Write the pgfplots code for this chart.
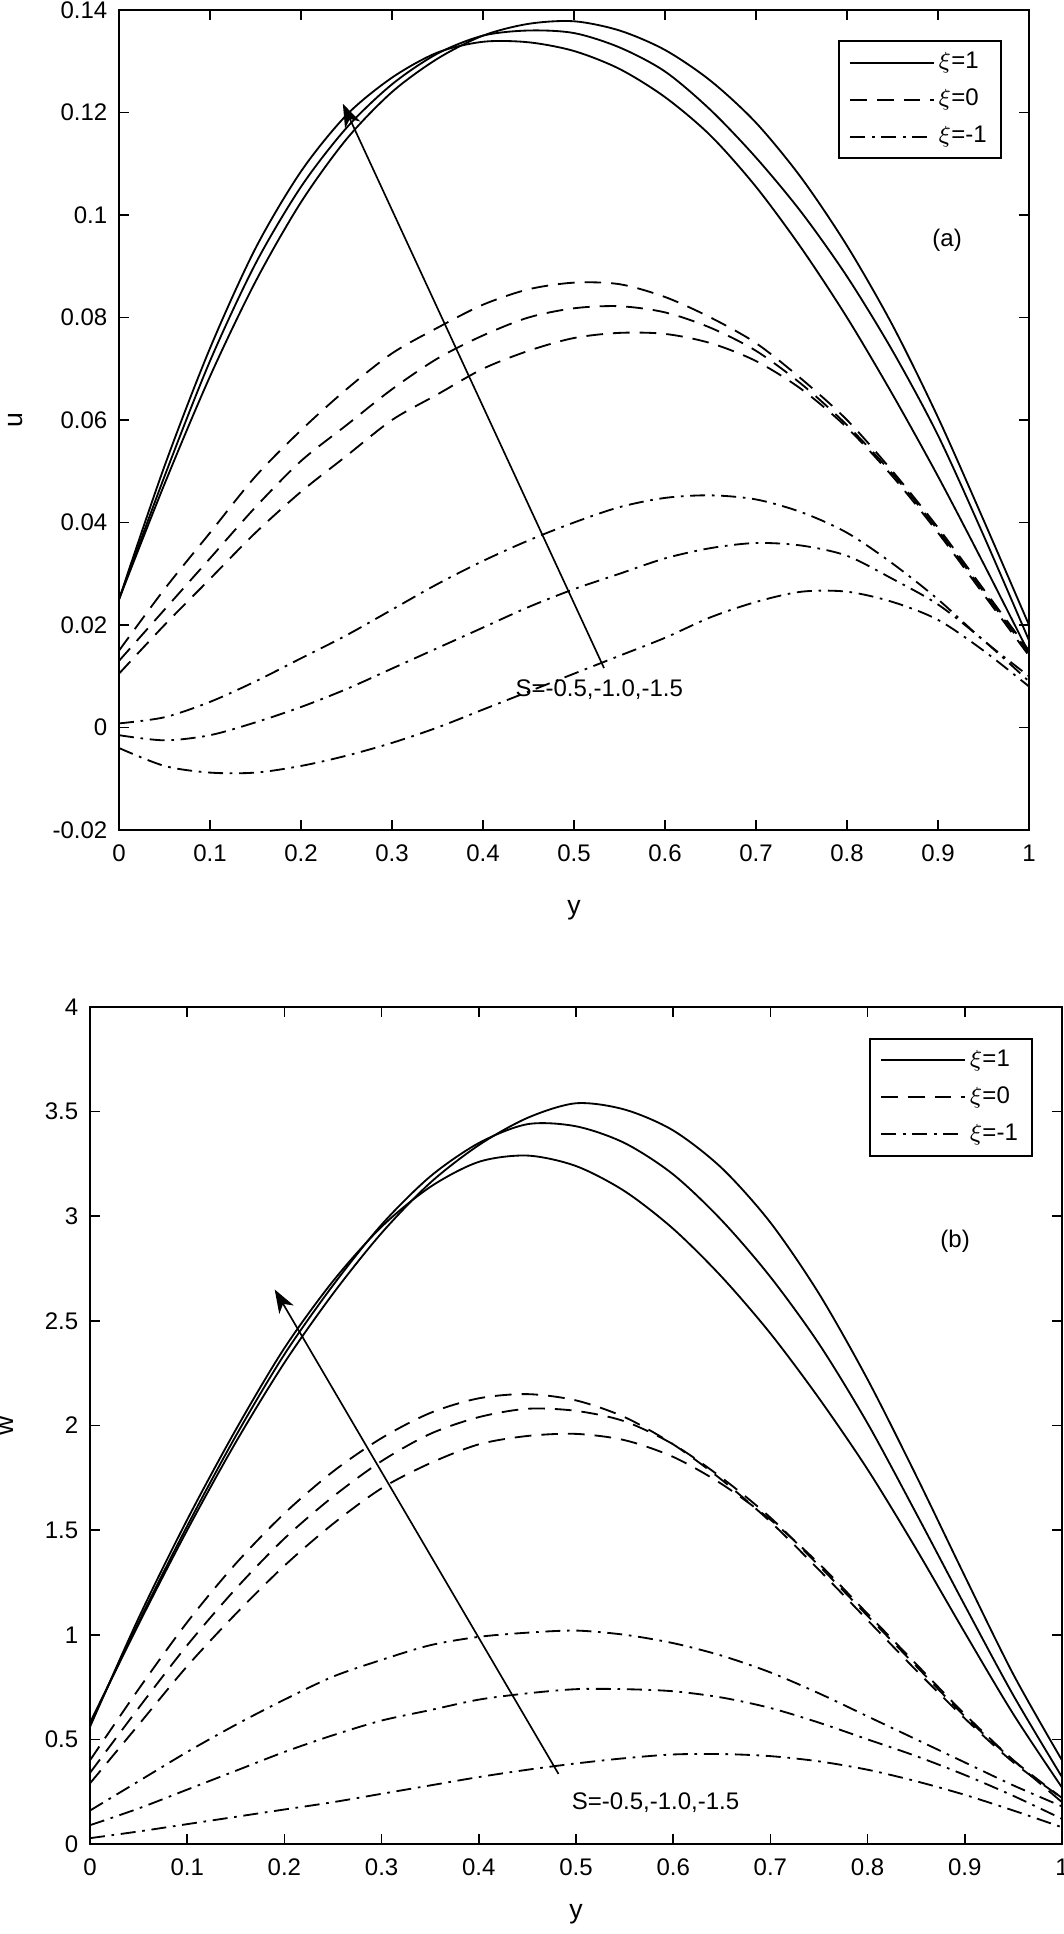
\documentclass[border=0pt]{standalone}
\usepackage{fontspec}
\setmainfont{Liberation Sans}
\usepackage{pgfplots}
\pgfplotsset{compat=1.18}
\usetikzlibrary{arrows.meta}

\pgfplotsset{
  myax/.style={
    scale only axis,
    xmin=0, xmax=1,
    xtick={0,0.1,0.2,0.3,0.4,0.5,0.6,0.7,0.8,0.9,1},
    xticklabels={0,0.1,0.2,0.3,0.4,0.5,0.6,0.7,0.8,0.9,1},
    tick align=inside,
    major tick length=3pt,
    axis line style={line width=0.6pt},
    every tick/.style={line width=0.5pt, black},
    tick label style={font=\fontsize{7.2}{8}\selectfont},
    xticklabel style={yshift=-1pt},
    label style={font=\fontsize{8}{9}\selectfont},
    /pgf/number format/assume math mode=true,
    legend cell align=left,
    legend style={at={(0.970,0.963)}, anchor=north east, draw=black, line width=0.6pt,
      font=\fontsize{7.2}{8}\selectfont, inner xsep=3pt, inner ysep=2pt,
      row sep=2.2pt, nodes={inner sep=1.2pt}},
    legend image code/.code={\draw[#1] (0pt,0pt) -- (25pt,0pt);},
    sol/.style={black, line width=0.55pt, smooth},
    dsh/.style={black, line width=0.55pt, smooth, dash pattern=on 5pt off 3pt},
    dd/.style={black, line width=0.55pt, smooth, dash pattern=on 4.5pt off 2pt on 0.8pt off 2pt},
  }
}

\begin{document}
\begin{tikzpicture}
% ---------------- (a) ----------------
\begin{axis}[myax,
  at={(35.7pt,-3pt)}, anchor=north west,
  width=273pt, height=246pt,
  ymin=-0.02, ymax=0.14,
  ytick={-0.02,0,0.02,0.04,0.06,0.08,0.1,0.12,0.14},
  yticklabels={-0.02,0,0.02,0.04,0.06,0.08,0.1,0.12,0.14},
  xlabel={y}, ylabel={u},
  xlabel style={at={(axis description cs:0.5,0)}, anchor=center, yshift=-24pt},
  ylabel style={at={(axis description cs:-0.1136,0.5)}, anchor=center},
]
\addplot[sol] coordinates {(0,0.025)(0.05,0.0475)(0.1,0.0685)(0.15,0.087)(0.2,0.1025)(0.25,0.1148)(0.3,0.124)(0.35,0.1305)(0.4,0.135)(0.45,0.1373)(0.5,0.1378)(0.55,0.1360)(0.6,0.1322)(0.65,0.1262)(0.7,0.1180)(0.75,0.1072)(0.8,0.0940)(0.85,0.0785)(0.9,0.0605)(0.95,0.0405)(1,0.020)};
\addlegendentry{$\xi$=1}
\addplot[dsh] coordinates {(0,0.015)(0.05,0.027)(0.1,0.038)(0.15,0.049)(0.2,0.058)(0.25,0.066)(0.3,0.073)(0.35,0.078)(0.4,0.0825)(0.45,0.0855)(0.5,0.0868)(0.55,0.0865)(0.6,0.084)(0.65,0.080)(0.7,0.075)(0.75,0.068)(0.8,0.060)(0.85,0.050)(0.9,0.039)(0.95,0.027)(1,0.015)};
\addlegendentry{$\xi$=0}
\addplot[dd] coordinates {(0,0.0008)(0.05,0.002)(0.1,0.005)(0.15,0.009)(0.2,0.0135)(0.25,0.018)(0.3,0.023)(0.35,0.028)(0.4,0.0325)(0.45,0.0365)(0.5,0.040)(0.55,0.043)(0.6,0.0448)(0.65,0.0453)(0.7,0.0445)(0.75,0.042)(0.8,0.038)(0.85,0.032)(0.9,0.025)(0.95,0.017)(1,0.010)};
\addlegendentry{$\xi$=-1}
\addplot[sol] coordinates {(0,0.025)(0.05,0.049)(0.1,0.0715)(0.15,0.0905)(0.2,0.1055)(0.25,0.117)(0.3,0.1255)(0.35,0.1315)(0.4,0.135)(0.45,0.136)(0.5,0.1355)(0.55,0.1327)(0.6,0.1280)(0.65,0.1205)(0.7,0.1112)(0.75,0.1005)(0.8,0.0880)(0.85,0.0735)(0.9,0.0570)(0.95,0.0375)(1,0.017)};
\addplot[sol] coordinates {(0,0.025)(0.05,0.051)(0.1,0.074)(0.15,0.0935)(0.2,0.1085)(0.25,0.1195)(0.3,0.1268)(0.35,0.1317)(0.4,0.1338)(0.45,0.1337)(0.5,0.1320)(0.55,0.1285)(0.6,0.1230)(0.65,0.1155)(0.7,0.1055)(0.75,0.0935)(0.8,0.0800)(0.85,0.0650)(0.9,0.0490)(0.95,0.0320)(1,0.0145)};
\addplot[dsh] coordinates {(0,0.013)(0.05,0.023)(0.1,0.033)(0.15,0.043)(0.2,0.052)(0.25,0.059)(0.3,0.066)(0.35,0.072)(0.4,0.0765)(0.45,0.080)(0.5,0.0818)(0.55,0.0822)(0.6,0.0810)(0.65,0.078)(0.7,0.0735)(0.75,0.067)(0.8,0.059)(0.85,0.0495)(0.9,0.0385)(0.95,0.0265)(1,0.0145)};
\addplot[dsh] coordinates {(0,0.0105)(0.05,0.020)(0.1,0.029)(0.15,0.038)(0.2,0.046)(0.25,0.053)(0.3,0.060)(0.35,0.065)(0.4,0.070)(0.45,0.0735)(0.5,0.0760)(0.55,0.0770)(0.6,0.0768)(0.65,0.075)(0.7,0.0715)(0.75,0.066)(0.8,0.0585)(0.85,0.049)(0.9,0.038)(0.95,0.026)(1,0.014)};
\addplot[dd] coordinates {(0,-0.0015)(0.05,-0.0025)(0.1,-0.0015)(0.15,0.001)(0.2,0.004)(0.25,0.0075)(0.3,0.0115)(0.35,0.0155)(0.4,0.0195)(0.45,0.0235)(0.5,0.027)(0.55,0.030)(0.6,0.033)(0.65,0.035)(0.7,0.036)(0.75,0.0355)(0.8,0.0335)(0.85,0.029)(0.9,0.024)(0.95,0.017)(1,0.009)};
\addplot[dd] coordinates {(0,-0.004)(0.05,-0.0075)(0.1,-0.0088)(0.15,-0.0088)(0.2,-0.0075)(0.25,-0.0055)(0.3,-0.003)(0.35,0.0)(0.4,0.0035)(0.45,0.007)(0.5,0.0105)(0.55,0.014)(0.6,0.0175)(0.65,0.0215)(0.7,0.0245)(0.75,0.0265)(0.8,0.0265)(0.85,0.0245)(0.9,0.021)(0.95,0.015)(1,0.008)};
\draw[line width=0.5pt, -{Stealth[length=7pt,width=5pt,inset=2pt]}] (axis cs:0.533,0.0116) -- (axis cs:0.246,0.1217);
\node[anchor=west, inner sep=0pt, font=\fontsize{7.2}{8}\selectfont] at (axis cs:0.435,0.0073) {S=-0.5,-1.0,-1.5};
\node[inner sep=0pt, font=\fontsize{7.2}{8}\selectfont] at (axis cs:0.91,0.095) {(a)};
\end{axis}

% ---------------- (b) ----------------
\begin{axis}[myax,
  at={(27pt,-302.1pt)}, anchor=north west,
  width=291.6pt, height=251.1pt,
  ymin=0, ymax=4,
  ytick={0,0.5,1,1.5,2,2.5,3,3.5,4},
  yticklabels={0,0.5,1,1.5,2,2.5,3,3.5,4},
  xlabel={y}, ylabel={w},
  xlabel style={at={(axis description cs:0.5,0)}, anchor=center, yshift=-21pt},
  ylabel style={at={(axis description cs:-0.0857,0.5)}, anchor=center},
]
\addplot[sol] coordinates {(0,0.58)(0.05,1.05)(0.1,1.5)(0.15,1.92)(0.2,2.3)(0.25,2.63)(0.3,2.92)(0.35,3.16)(0.4,3.34)(0.45,3.47)(0.5,3.54)(0.55,3.51)(0.6,3.41)(0.65,3.23)(0.7,2.97)(0.75,2.63)(0.8,2.22)(0.85,1.76)(0.9,1.28)(0.95,0.81)(1,0.40)};
\addlegendentry{$\xi$=1}
\addplot[dsh] coordinates {(0,0.40)(0.05,0.74)(0.1,1.06)(0.15,1.34)(0.2,1.58)(0.25,1.78)(0.3,1.94)(0.35,2.06)(0.4,2.13)(0.45,2.15)(0.5,2.12)(0.55,2.04)(0.6,1.91)(0.65,1.74)(0.7,1.54)(0.75,1.31)(0.8,1.07)(0.85,0.83)(0.9,0.6)(0.95,0.39)(1,0.22)};
\addlegendentry{$\xi$=0}
\addplot[dd] coordinates {(0,0.16)(0.05,0.3)(0.1,0.44)(0.15,0.57)(0.2,0.69)(0.25,0.8)(0.3,0.88)(0.35,0.95)(0.4,0.99)(0.45,1.01)(0.5,1.02)(0.55,1.0)(0.6,0.96)(0.65,0.9)(0.7,0.82)(0.75,0.72)(0.8,0.61)(0.85,0.5)(0.9,0.39)(0.95,0.28)(1,0.18)};
\addlegendentry{$\xi$=-1}
\addplot[sol] coordinates {(0,0.57)(0.05,1.06)(0.1,1.52)(0.15,1.95)(0.2,2.34)(0.25,2.67)(0.3,2.96)(0.35,3.19)(0.4,3.35)(0.45,3.44)(0.5,3.43)(0.55,3.35)(0.6,3.20)(0.65,2.98)(0.7,2.71)(0.75,2.39)(0.8,2.01)(0.85,1.58)(0.9,1.14)(0.95,0.71)(1,0.32)};
\addplot[sol] coordinates {(0,0.56)(0.05,1.08)(0.1,1.55)(0.15,1.98)(0.2,2.37)(0.25,2.69)(0.3,2.95)(0.35,3.14)(0.4,3.26)(0.45,3.29)(0.5,3.24)(0.55,3.12)(0.6,2.94)(0.65,2.71)(0.7,2.44)(0.75,2.13)(0.8,1.79)(0.85,1.41)(0.9,1.01)(0.95,0.62)(1,0.27)};
\addplot[dsh] coordinates {(0,0.34)(0.05,0.65)(0.1,0.95)(0.15,1.22)(0.2,1.46)(0.25,1.66)(0.3,1.83)(0.35,1.96)(0.4,2.04)(0.45,2.08)(0.5,2.07)(0.55,2.02)(0.6,1.91)(0.65,1.75)(0.7,1.56)(0.75,1.33)(0.8,1.09)(0.85,0.85)(0.9,0.61)(0.95,0.4)(1,0.22)};
\addplot[dsh] coordinates {(0,0.29)(0.05,0.57)(0.1,0.85)(0.15,1.1)(0.2,1.33)(0.25,1.53)(0.3,1.7)(0.35,1.82)(0.4,1.91)(0.45,1.95)(0.5,1.96)(0.55,1.93)(0.6,1.85)(0.65,1.72)(0.7,1.55)(0.75,1.34)(0.8,1.1)(0.85,0.86)(0.9,0.62)(0.95,0.4)(1,0.2)};
\addplot[dd] coordinates {(0,0.09)(0.05,0.17)(0.1,0.26)(0.15,0.35)(0.2,0.44)(0.25,0.52)(0.3,0.59)(0.35,0.64)(0.4,0.69)(0.45,0.72)(0.5,0.74)(0.55,0.74)(0.6,0.73)(0.65,0.7)(0.7,0.65)(0.75,0.58)(0.8,0.5)(0.85,0.42)(0.9,0.33)(0.95,0.23)(1,0.12)};
\addplot[dd] coordinates {(0,0.028)(0.05,0.06)(0.1,0.095)(0.15,0.13)(0.2,0.165)(0.25,0.2)(0.3,0.24)(0.35,0.28)(0.4,0.32)(0.45,0.355)(0.5,0.385)(0.55,0.41)(0.6,0.428)(0.65,0.43)(0.7,0.42)(0.75,0.395)(0.8,0.355)(0.85,0.3)(0.9,0.235)(0.95,0.16)(1,0.08)};
\draw[line width=0.5pt, -{Stealth[length=7pt,width=5pt,inset=2pt]}] (axis cs:0.482,0.335) -- (axis cs:0.19,2.65);
\node[anchor=west, inner sep=0pt, font=\fontsize{7.2}{8}\selectfont] at (axis cs:0.495,0.196) {S=-0.5,-1.0,-1.5};
\node[inner sep=0pt, font=\fontsize{7.2}{8}\selectfont] at (axis cs:0.89,2.88) {(b)};
\node[anchor=south west, inner sep=0pt, xshift=0.5pt, yshift=3pt, font=\fontsize{7.2}{8}\selectfont] at (rel axis cs:0,1) {$\times$10\textsuperscript{-4}};
\end{axis}
\pgfresetboundingbox
\path (0,0) rectangle (318.9pt,-580.2pt);
\end{tikzpicture}
\end{document}
